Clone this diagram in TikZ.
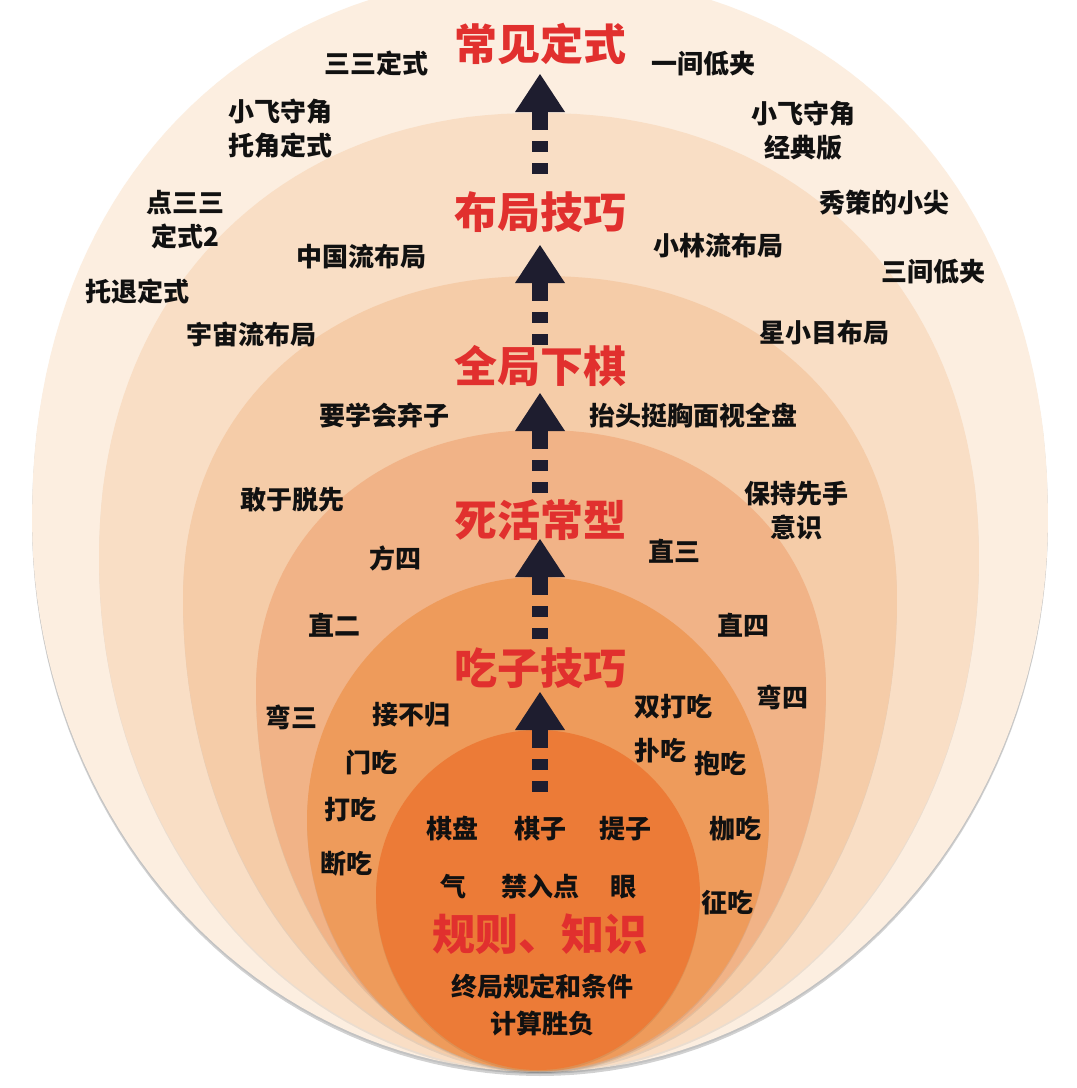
\documentclass[tikz,border=0pt]{standalone}
\usepackage{fontspec}
\setmainfont{Noto Sans CJK SC}
\definecolor{bandA}{HTML}{FCEEE0}
\definecolor{bandB}{HTML}{F9DEC5}
\definecolor{bandC}{HTML}{F5CCA8}
\definecolor{bandD}{HTML}{F1B387}
\definecolor{bandE}{HTML}{EE9B5B}
\definecolor{bandF}{HTML}{EC7B37}
\definecolor{navy}{HTML}{1E1D2F}
\definecolor{redc}{HTML}{E1302E}
\definecolor{txt}{HTML}{111111}
% #1 style, #2 cx, #3 cy, #4 a, #5 btop, #6 bbot, #7 ptop, #8 pbot
\newcommand\eggfill[8]{%
  \fill[#1] plot[domain=180:0,samples=91,variable=\t]
   ({#2+#4*(pow(max(cos(\t),0.0001),#7)-pow(max(-cos(\t),0.0001),#7))},
    {#3-#5*pow(max(sin(\t),0.0001),#7)})
   -- plot[domain=0:-180,samples=91,variable=\t]
   ({#2+#4*(pow(max(cos(\t),0.0001),#8)-pow(max(-cos(\t),0.0001),#8))},
    {#3+#6*pow(max(-sin(\t),0.0001),#8)}) -- cycle;}
\newcommand\goarrow[2]{%
  \coordinate (#1) at (540,#2);
  \fill[navy] (#1) -- ++(25,38) -- ++(-50,0) -- cycle;
  \fill[navy] (#1) ++(-8,36) rectangle ++(16,20);
  \fill[navy] (#1) ++(-8,67) rectangle ++(16,11);
  \fill[navy] (#1) ++(-8,89) rectangle ++(16,11);}
\begin{document}
\begin{tikzpicture}[x=1pt,y=-1pt,
  lbl/.style={font=\bfseries\fontsize{26}{34}\selectfont, text=txt, inner sep=0pt, align=center},
  ttl/.style={font=\bfseries\fontsize{43}{50}\selectfont, text=redc, inner sep=0pt},
  shade/.style={fill=black, fill opacity=0.07, yshift=-2pt}]
\useasboundingbox (0,0) rectangle (1077,1088);
\fill[white] (0,0) rectangle (1077,1088);
\begin{scope}
\clip (0,0) rectangle (1077,1088);
% bottom shadow of the stack
\eggfill{fill=black, fill opacity=0.18, yshift=-4pt}{540}{520}{508}{545}{552}{0.93}{1.0}
\eggfill{shade}{540}{520}{508}{545}{552}{0.93}{1.0}
\eggfill{bandA}{540}{520}{508}{545}{552}{0.93}{1.0}
\eggfill{shade}{539}{560}{440}{447}{512}{0.93}{1.0}
\eggfill{bandB}{539}{560}{440}{447}{512}{0.93}{1.0}
\eggfill{shade}{540}{600}{357}{324}{471}{0.93}{1.0}
\eggfill{bandC}{540}{600}{357}{324}{471}{0.93}{1.0}
\eggfill{shade}{541}{690}{285}{260}{381}{0.95}{1.0}
\eggfill{bandD}{541}{690}{285}{260}{381}{0.95}{1.0}
\eggfill{shade}{538}{820}{231}{243}{251}{1.0}{1.0}
\eggfill{bandE}{538}{820}{231}{243}{251}{1.0}{1.0}
\eggfill{shade}{538}{895}{162}{165}{175}{1.0}{1.0}
\eggfill{bandF}{538}{895}{162}{165}{175}{1.0}{1.0}
\end{scope}
% arrows
\goarrow{ar1}{74}
\goarrow{ar2}{245}
\goarrow{ar3}{393}
\goarrow{ar4}{539}
\goarrow{ar5}{692}
% titles
\node[ttl] (t1) at (540,44) {常见定式};
\node[ttl] (t2) at (540,212) {布局技巧};
\node[ttl] (t3) at (540,366) {全局下棋};
\node[ttl] (t4) at (540,520) {死活常型};
\node[ttl] (t5) at (540,668) {吃子技巧};
\node[ttl] (t6) at (540,934) {规则、知识};
% band 1
\node[lbl] (a1) at (376,63) {三三定式};
\node[lbl] (a2) at (703,64) {一间低夹};
\node[lbl] (a3) at (280,129) {小飞守角\\托角定式};
\node[lbl] (a4) at (803,131) {小飞守角\\经典版};
\node[lbl] (a5) at (185,220) {点三三\\定式2};
\node[lbl] (a6) at (884,203) {秀策的小尖};
\node[lbl] (a7) at (137,291) {托退定式};
\node[lbl] (a8) at (933,272) {三间低夹};
% band 2
\node[lbl] (b1) at (361,257) {中国流布局};
\node[lbl] (b2) at (718,246) {小林流布局};
\node[lbl] (b3) at (251,334) {宇宙流布局};
\node[lbl] (b4) at (824,333) {星小目布局};
% band 3
\node[lbl] (c1) at (384,415) {要学会弃子};
\node[lbl] (c2) at (693,416) {抬头挺胸面视全盘};
\node[lbl] (c3) at (292,500) {敢于脱先};
\node[lbl] (c4) at (796,511) {保持先手\\意识};
% band 4
\node[lbl] (d1) at (395,558) {方四};
\node[lbl] (d2) at (674,551) {直三};
\node[lbl] (d3) at (334,625) {直二};
\node[lbl] (d4) at (743,625) {直四};
\node[lbl] (d5) at (291,717) {弯三};
\node[lbl] (d6) at (782,697) {弯四};
% band 5
\node[lbl] (e1) at (411,715) {接不归};
\node[lbl] (e2) at (673,707) {双打吃};
\node[lbl] (e3) at (371,763) {门吃};
\node[lbl] (e4) at (660,751) {扑吃};
\node[lbl] (e5) at (720,764) {抱吃};
\node[lbl] (e6) at (350,810) {打吃};
\node[lbl] (e7) at (735,829) {枷吃};
\node[lbl] (e8) at (346,864) {断吃};
\node[lbl] (e9) at (727,903) {征吃};
% band 6
\node[lbl] (f1) at (452,829) {棋盘};
\node[lbl] (f2) at (540,829) {棋子};
\node[lbl] (f3) at (625,829) {提子};
\node[lbl] (f4) at (453,887) {气};
\node[lbl] (f5) at (540,887) {禁入点};
\node[lbl] (f6) at (623,887) {眼};
\node[lbl] (f7) at (542,986) {终局规定和条件};
\node[lbl] (f8) at (542,1024) {计算胜负};
\end{tikzpicture}
\end{document}
